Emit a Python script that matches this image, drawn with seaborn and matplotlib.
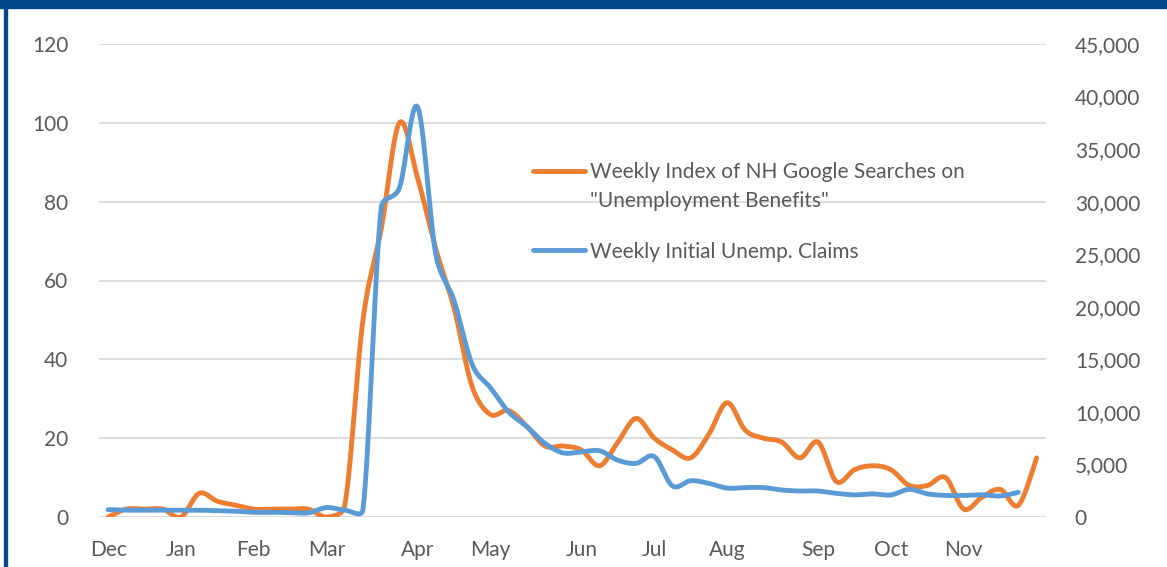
import numpy as np
import matplotlib
matplotlib.use("Agg")
import matplotlib.pyplot as plt
import seaborn as sns
from matplotlib.ticker import FuncFormatter, MultipleLocator
from matplotlib.lines import Line2D
from matplotlib.patches import Rectangle

# Month labels placed at the first week of each month
month_labels = ["Dec", "Jan", "Feb", "Mar", "Apr", "May", "Jun", "Jul", "Aug", "Sep", "Oct", "Nov"]
month_weeks = [0, 4, 8, 12, 17, 21, 26, 30, 34, 39, 43, 47]

# Weekly Google Trends index for "Unemployment Benefits" in NH (0-100)
search_index = [0, 2, 2, 2, 0, 6, 4, 3, 2, 2, 2, 2, 0, 3, 50, 73, 100, 86, 68, 53,
                33, 26, 27, 23, 18, 18, 17, 13, 19, 25, 20, 17, 15, 21, 29, 22, 20, 19,
                15, 19, 9, 12, 13, 12, 8, 8, 10, 2, 5, 7, 3, 15]

# Weekly initial unemployment claims in NH
initial_claims = [700, 650, 650, 650, 650, 650, 600, 550, 450, 450, 420, 400, 900, 650,
                  700, 29400, 31300, 39000, 25000, 20600, 14500, 12300, 10000, 8600,
                  7000, 6100, 6200, 6300, 5400, 5100, 5750, 2950, 3450, 3200, 2750,
                  2800, 2800, 2570, 2470, 2470, 2250, 2100, 2200, 2100, 2630, 2200,
                  2050, 2050, 2120, 2000, 2350]

ORANGE = "#ED7D31"
BLUE = "#5B9BD5"
TEXT = "#595959"
GRID = "#D9D9D9"
FRAME = "#02498A"
FS = 15

sns.set_theme(style="white")
plt.rcParams["font.family"] = ["Lato", "DejaVu Sans"]


def smooth_display(ax, xs, ys, steps=30):
    """Bezier smoothing in screen space with control arms capped at half a segment."""
    pts = ax.transData.transform(np.column_stack([xs, ys]))
    ext = np.vstack([pts[0], pts, pts[-1]])
    out = [pts[0]]
    t = np.linspace(0, 1, steps)[1:, None]
    for i in range(len(pts) - 1):
        p0, p1, p2, p3 = ext[i], ext[i + 1], ext[i + 2], ext[i + 3]
        seg = np.linalg.norm(p2 - p1)
        a = (p2 - p0) / 6.0
        b = (p3 - p1) / 6.0
        la, lb = np.linalg.norm(a), np.linalg.norm(b)
        if la > seg / 2 and la > 0:
            a *= (seg / 2) / la
        if lb > seg / 2 and lb > 0:
            b *= (seg / 2) / lb
        c1, c2 = p1 + a, p2 - b
        curve = ((1 - t) ** 3) * p1 + 3 * ((1 - t) ** 2) * t * c1 \
            + 3 * (1 - t) * (t ** 2) * c2 + (t ** 3) * p2
        out.extend(curve)
    back = ax.transData.inverted().transform(np.array(out))
    return back[:, 0], back[:, 1]


fig = plt.figure(figsize=(11.67, 5.67), dpi=100)
W, H = 1167, 567
ax = fig.add_axes([99 / W, 1 - 517 / H, 946.7 / W, 473 / H])
ax2 = ax.twinx()

weeks_s = np.arange(len(search_index))
weeks_c = np.arange(len(initial_claims))

XLIM = (-0.5, len(search_index) - 0.5)
ax.set_xlim(*XLIM)
ax.set_ylim(0, 120)
ax2.set_ylim(0, 45000)

sx, sy = smooth_display(ax, weeks_s, search_index)
cx, cy = smooth_display(ax2, weeks_c, initial_claims)

sns.lineplot(x=sx, y=sy, ax=ax, sort=False, estimator=None, color=ORANGE,
             linewidth=3.5, solid_capstyle="round")
sns.lineplot(x=cx, y=cy, ax=ax2, sort=False, estimator=None, color=BLUE,
             linewidth=3.5, solid_capstyle="round")

ax.set_xlim(*XLIM)
ax.set_ylim(0, 120)
ax2.set_ylim(0, 45000)
ax2.set_xlim(*XLIM)

# Axes styling
for a in (ax, ax2):
    for s in a.spines.values():
        s.set_visible(False)
    a.set_xlabel("")
    a.set_ylabel("")

ax.yaxis.set_major_locator(MultipleLocator(20))
ax.grid(axis="y", color=GRID, linewidth=1.3)
ax.grid(axis="x", visible=False)
ax.set_axisbelow(True)
ax.set_xticks(month_weeks)
ax.set_xticklabels(month_labels)
ax.tick_params(axis="x", length=0, pad=16.5, labelsize=FS, labelcolor=TEXT)
ax.tick_params(axis="y", length=0, pad=22, labelsize=FS, labelcolor=TEXT)

ax2.yaxis.set_major_locator(MultipleLocator(5000))
ax2.yaxis.set_major_formatter(FuncFormatter(lambda v, p: f"{int(v):,}"))
ax2.tick_params(axis="y", length=0, pad=21, labelsize=FS, labelcolor=TEXT)
ax2.grid(False)

# Legend
orange_handle = Line2D([], [], color=ORANGE, linewidth=3.5, solid_capstyle="round")
blue_handle = Line2D([], [], color=BLUE, linewidth=3.5, solid_capstyle="round")
blank_handle = Line2D([], [], color="none")
leg_kw = dict(frameon=False, fontsize=FS, handlelength=2.5, handletextpad=0.25,
              borderpad=0, borderaxespad=0, labelcolor=TEXT, loc="center left")
leg1 = ax2.legend([orange_handle, blank_handle],
                  ["Weekly Index of NH Google Searches on", "\"Unemployment Benefits\""],
                  bbox_to_anchor=(0.4584, (517 - 186.5) / 473), labelspacing=0.45, **leg_kw)
ax2.add_artist(leg1)
ax2.legend([blue_handle], ["Weekly Initial Unemp. Claims"],
           bbox_to_anchor=(0.4584, (517 - 251.5) / 473), **leg_kw)

# Frame band on top and thin rule on the left
fig.patches.append(Rectangle((0, 1 - 8 / H), 1, 8 / H, transform=fig.transFigure,
                             color=FRAME, zorder=10))
fig.patches.append(Rectangle((4 / W, 0), 3 / W, 1 - 8 / H, transform=fig.transFigure,
                             color=FRAME, zorder=10))

fig.savefig("out.png", dpi=100)
